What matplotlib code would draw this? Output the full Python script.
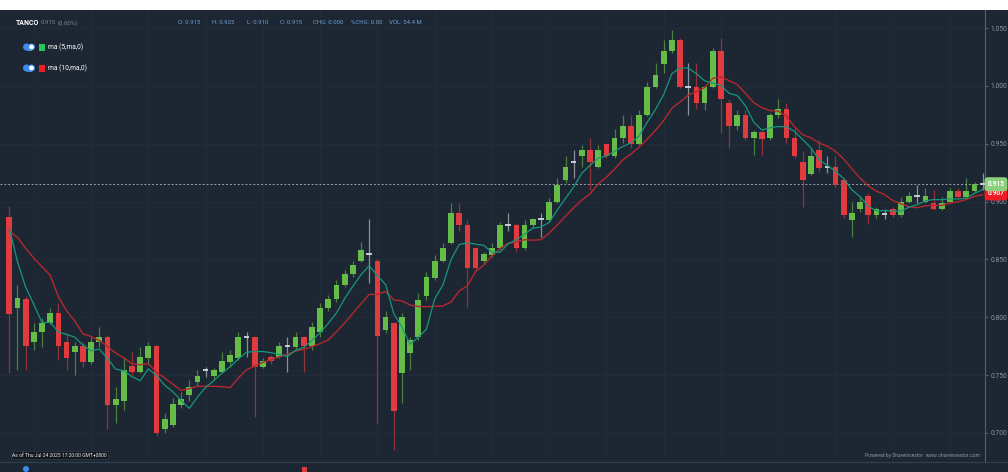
import numpy as np
import pandas as pd
import matplotlib
matplotlib.use('Agg')
import matplotlib.pyplot as plt
import matplotlib.transforms as mtransforms
from matplotlib.patches import Rectangle, FancyBboxPatch, Ellipse

plt.rcParams['font.family'] = ['Liberation Sans Narrow', 'Roboto', 'DejaVu Sans']

# daily candles TANCO
opens = [0.887, 0.808, 0.816, 0.779, 0.787, 0.795, 0.804, 0.779, 0.770, 0.775,
         0.761, 0.779, 0.783, 0.724, 0.728, 0.758, 0.753, 0.765, 0.775, 0.703,
         0.707, 0.724, 0.733, 0.744, 0.754, 0.749, 0.753, 0.761, 0.765, 0.783,
         0.783, 0.757, 0.766, 0.766, 0.775, 0.774, 0.783, 0.775, 0.787, 0.808,
         0.816, 0.828, 0.837, 0.849, 0.855, 0.849, 0.789, 0.795, 0.752, 0.769,
         0.783, 0.818, 0.834, 0.849, 0.864, 0.890, 0.880, 0.860, 0.849, 0.854,
         0.860, 0.880, 0.880, 0.860, 0.880, 0.885, 0.884, 0.900, 0.919, 0.934,
         0.939, 0.945, 0.930, 0.950, 0.939, 0.955, 0.965, 0.950, 0.975, 0.999,
         1.019, 1.030, 1.040, 0.999, 0.999, 0.985, 0.999, 1.030, 0.985, 0.965,
         0.975, 0.955, 0.960, 0.955, 0.975, 0.980, 0.955, 0.934, 0.924, 0.945,
         0.930, 0.930, 0.919, 0.884, 0.894, 0.905, 0.888, 0.889, 0.894, 0.888,
         0.900, 0.905, 0.900, 0.899, 0.894, 0.900, 0.909, 0.904, 0.909, 0.915]
highs = [0.896, 0.828, 0.818, 0.795, 0.799, 0.808, 0.812, 0.786, 0.779, 0.779,
         0.783, 0.792, 0.785, 0.740, 0.766, 0.770, 0.774, 0.779, 0.776, 0.717,
         0.730, 0.735, 0.746, 0.754, 0.757, 0.756, 0.770, 0.772, 0.787, 0.787,
         0.784, 0.765, 0.767, 0.779, 0.783, 0.787, 0.784, 0.796, 0.812, 0.819,
         0.832, 0.841, 0.849, 0.865, 0.885, 0.850, 0.805, 0.796, 0.804, 0.783,
         0.821, 0.839, 0.854, 0.864, 0.899, 0.899, 0.884, 0.861, 0.856, 0.864,
         0.882, 0.890, 0.881, 0.884, 0.886, 0.890, 0.903, 0.920, 0.939, 0.945,
         0.949, 0.955, 0.949, 0.951, 0.963, 0.975, 0.975, 0.979, 1.003, 1.020,
         1.040, 1.048, 1.041, 1.020, 1.020, 1.001, 1.033, 1.041, 0.989, 0.979,
         0.979, 0.962, 0.961, 0.977, 0.989, 0.985, 0.964, 0.943, 0.946, 0.953,
         0.939, 0.939, 0.920, 0.900, 0.904, 0.907, 0.895, 0.894, 0.895, 0.904,
         0.908, 0.914, 0.912, 0.910, 0.904, 0.912, 0.912, 0.920, 0.917, 0.925]
lows = [0.752, 0.754, 0.754, 0.772, 0.774, 0.794, 0.763, 0.754, 0.750, 0.757,
        0.760, 0.774, 0.703, 0.709, 0.720, 0.750, 0.752, 0.760, 0.697, 0.700,
        0.705, 0.722, 0.728, 0.741, 0.748, 0.747, 0.752, 0.757, 0.763, 0.766,
        0.714, 0.756, 0.760, 0.765, 0.753, 0.772, 0.753, 0.772, 0.783, 0.805,
        0.813, 0.826, 0.835, 0.848, 0.830, 0.709, 0.786, 0.685, 0.726, 0.754,
        0.780, 0.815, 0.832, 0.848, 0.863, 0.875, 0.809, 0.841, 0.847, 0.852,
        0.858, 0.875, 0.856, 0.858, 0.877, 0.869, 0.882, 0.899, 0.916, 0.920,
        0.930, 0.910, 0.929, 0.938, 0.938, 0.951, 0.946, 0.949, 0.974, 0.998,
        1.011, 1.028, 0.998, 0.975, 0.980, 0.979, 0.998, 0.959, 0.946, 0.962,
        0.953, 0.940, 0.940, 0.953, 0.972, 0.951, 0.938, 0.895, 0.923, 0.926,
        0.925, 0.913, 0.886, 0.869, 0.891, 0.881, 0.886, 0.885, 0.887, 0.887,
        0.899, 0.899, 0.899, 0.893, 0.893, 0.899, 0.903, 0.903, 0.908, 0.910]
closes = [0.803, 0.817, 0.775, 0.787, 0.795, 0.804, 0.775, 0.765, 0.775, 0.761,
          0.779, 0.783, 0.724, 0.729, 0.754, 0.753, 0.766, 0.775, 0.700, 0.712,
          0.725, 0.729, 0.740, 0.749, 0.754, 0.754, 0.762, 0.767, 0.783, 0.783,
          0.757, 0.762, 0.762, 0.775, 0.775, 0.783, 0.775, 0.792, 0.808, 0.816,
          0.828, 0.837, 0.845, 0.858, 0.855, 0.784, 0.800, 0.719, 0.800, 0.780,
          0.815, 0.835, 0.849, 0.860, 0.890, 0.880, 0.843, 0.843, 0.855, 0.860,
          0.880, 0.880, 0.860, 0.880, 0.885, 0.885, 0.900, 0.914, 0.930, 0.934,
          0.945, 0.934, 0.945, 0.939, 0.955, 0.965, 0.950, 0.975, 0.999, 1.009,
          1.030, 1.040, 0.999, 0.999, 0.985, 0.999, 1.030, 0.989, 0.965, 0.975,
          0.955, 0.960, 0.954, 0.975, 0.980, 0.955, 0.939, 0.919, 0.939, 0.929,
          0.930, 0.914, 0.888, 0.890, 0.900, 0.888, 0.894, 0.889, 0.888, 0.900,
          0.905, 0.905, 0.905, 0.894, 0.899, 0.909, 0.904, 0.909, 0.915, 0.915]
# closes just before the visible window (estimated from where the MAs start)
prev_closes = [0.872, 0.870, 0.872, 0.870, 0.877, 0.962, 0.885, 0.862, 0.873]

price_ticks = [0.700, 0.750, 0.800, 0.850, 0.900, 0.950, 1.000, 1.050]
last_price = 0.915
ma10_last = 0.907
header = [("O", "0.915"), ("H", "0.925"), ("L", "0.910"), ("C", "0.915"),
          ("CHG", "0.000"), ("%CHG", "0.00"), ("VOL", "54.4 M")]
header_x = [178, 212, 247, 280, 313, 351, 389]

BG = '#1d2733'
GREEN = '#66bc48'
RED = '#e13a3f'
DOJI = '#d3d9df'
W, H = 1008, 472

def fx(px):
    return px / W

def fy(py):
    return 1 - py / H

def dot(cx, cy, r, color):
    # round dot given in pixels
    fig.add_artist(Ellipse((fx(cx), fy(cy)), 2 * r / W, 2 * r / H,
                           transform=fig.transFigure, fc=color, ec='none'))

fig = plt.figure(figsize=(10.08, 4.72), dpi=100)
fig.patch.set_facecolor(BG)
fig.add_artist(Rectangle((0, fy(10)), 1, 10 / H, transform=fig.transFigure,
                         facecolor='white', edgecolor='none'))

ax = fig.add_axes([0, fy(461), fx(985), (461 - 10) / H])
ax.set_facecolor(BG)

n = len(closes)
x = np.arange(n)
allc = pd.Series(prev_closes + closes)
ma5 = allc.rolling(5).mean().to_numpy()[len(prev_closes):]
ma10 = allc.rolling(10).mean().to_numpy()[len(prev_closes):]

# grid
ax.set_yticks(price_ticks)
ax.set_xticks(np.arange(3, n, 7))
ax.grid(True, color='#232e3a', lw=0.6)
ax.set_axisbelow(True)

for i in range(n):
    o, h, l, c = opens[i], highs[i], lows[i], closes[i]
    if c > o:
        col = GREEN
    elif c < o:
        col = RED
    else:
        col = DOJI
    ax.vlines(i, l, h, color=col, lw=0.9, alpha=0.6, zorder=2)
    if c == o:
        ax.hlines(c, i - 0.34, i + 0.34, color=col, lw=1.3, zorder=3)
    else:
        ax.bar(i, max(abs(c - o), 0.002), bottom=min(o, c), width=0.7,
               color=col, edgecolor='none', zorder=3)

ax.plot(x, ma10, color='#b5272f', lw=1.0, zorder=4)
ax.plot(x, ma5, color='#15977d', lw=0.9, zorder=4)

ax.axhline(last_price, color='#9aa3ad', lw=0.7, ls=(0, (2, 2)), zorder=1)

ax.set_xlim(-1.137, 119.28)
ax.set_ylim(0.67576, 1.0656)

for s in ['top', 'left', 'bottom']:
    ax.spines[s].set_visible(False)
ax.spines['right'].set_color('#56616d')
ax.spines['right'].set_linewidth(0.8)
ax.yaxis.tick_right()
ax.set_yticklabels([f'{t:.3f}' for t in price_ticks])
ax.tick_params(axis='y', colors='#56616d', labelcolor='#8d97a1', labelsize=4.8,
               length=2, pad=2)
ax.tick_params(axis='x', length=0, labelbottom=False)

# price tags on the right axis
tr = mtransforms.blended_transform_factory(fig.transFigure, ax.transData)
ax.text(fx(996), ma10_last, f'{ma10_last:.3f}', transform=tr, ha='center', va='center',
        fontsize=4.8, color='white', fontweight='bold', zorder=10, clip_on=False,
        bbox=dict(boxstyle='round,pad=0.45,rounding_size=0.5', fc='#ee1d25', ec='none'))
ax.text(fx(996), last_price, f'{last_price:.3f}', transform=tr, ha='center', va='center',
        fontsize=4.8, color='white', fontweight='bold', zorder=11, clip_on=False,
        bbox=dict(boxstyle='round,pad=0.45,rounding_size=0.5', fc='#8ccf7c', ec='none'))

# header line
fig.text(fx(16), fy(23), 'TANCO', color='white', fontsize=5, fontweight='bold', va='center')
fig.text(fx(41), fy(23), f'{last_price:.3f}', color='#7d8894', fontsize=4.3, va='center')
fig.text(fx(58), fy(23), '(0.00%)', color='#7d8894', fontsize=4.3, va='center')
for (lab, val), hx in zip(header, header_x):
    fig.text(fx(hx), fy(23), f'{lab}: {val}', color='#6d9fd6', fontsize=4.3, va='center')

# legend rows with toggle switches
for row_y, sq_col, lab in [(47, '#22c55e', 'ma (5,ma,0)'), (68, '#ee1d25', 'ma (10,ma,0)')]:
    dot(26.5, row_y, 3.5, '#3b8cf0')
    dot(31.5, row_y, 3.5, '#3b8cf0')
    fig.add_artist(Rectangle((fx(26.5), fy(row_y + 3.5)), fx(5), 7 / H,
                             transform=fig.transFigure, fc='#3b8cf0', ec='none'))
    dot(31.5, row_y, 2.4, 'white')
    fig.add_artist(Rectangle((fx(39), fy(row_y + 3.5)), fx(6), 7 / H,
                             transform=fig.transFigure, fc=sq_col, ec='none'))
    fig.text(fx(48), fy(row_y), lab, color='white', fontsize=4.8, va='center')

# footer texts
fig.text(fx(12), fy(455), 'As of Thu Jul 24 2025 17:20:00 GMT+0800', color='#e6e9ec',
         fontsize=3.6, va='center',
         bbox=dict(boxstyle='square,pad=0.3', fc='#111820', ec='#3a4450', lw=0.4))
fig.text(fx(980), fy(455), 'Powered by ShareInvestor  www.shareinvestor.com', color='#8d97a1',
         fontsize=3.6, va='center', ha='right')

# bottom strip
fig.add_artist(plt.Line2D([0, 1], [fy(462), fy(462)], transform=fig.transFigure,
                          color='#33404d', lw=0.8))
dot(26, 469, 3, '#3b8cf0')
fig.add_artist(Rectangle((fx(302), fy(472)), fx(5), 5 / H,
                         transform=fig.transFigure, fc='#e13a3f', ec='none'))

fig.savefig('out.png', dpi=100, facecolor=fig.get_facecolor())
